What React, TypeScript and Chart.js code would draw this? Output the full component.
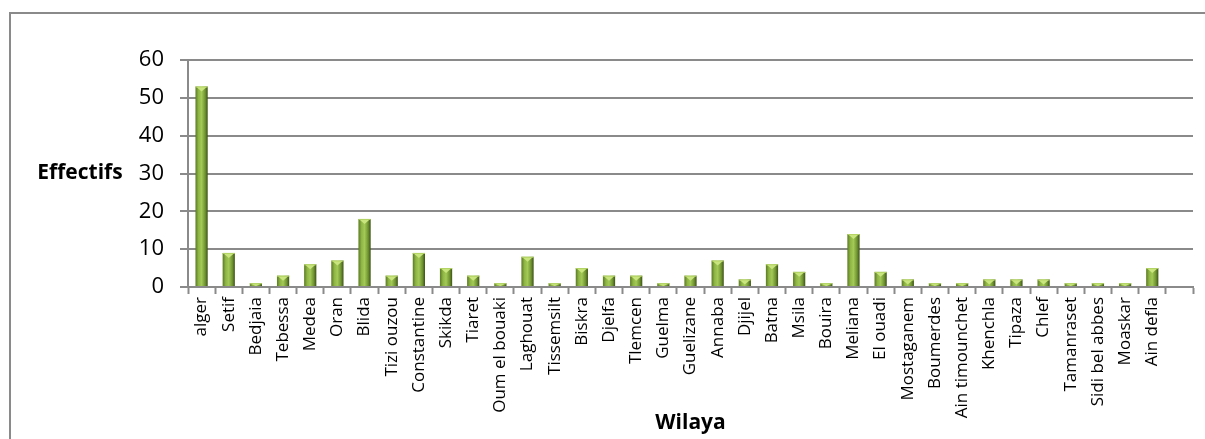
import React, { useEffect, useRef } from "react";
import { Chart, registerables } from "chart.js";

Chart.register(...registerables);

const categories = [
  "alger", "Setif", "Bedjaia", "Tebessa", "Medea", "Oran", "Blida", "Tizi ouzou",
  "Constantine", "Skikda", "Tiaret", "Oum el bouaki", "Laghouat", "Tissemsilt",
  "Biskra", "Djelfa", "Tlemcen", "Guelma", "Guelizane", "Annaba", "Djijel", "Batna",
  "Msila", "Bouira", "Meliana", "El ouadi", "Mostaganem", "Boumerdes",
  "Ain timounchet", "Khenchla", "Tipaza", "Chlef", "Tamanraset", "Sidi bel abbes",
  "Moaskar", "Ain defla", "",
];
const effectifs = [
  53, 9, 1, 3, 6, 7, 18, 3, 9, 5, 3, 1, 8, 1, 5, 3, 3, 1, 3, 7, 2, 6, 4, 1, 14, 4,
  2, 1, 1, 2, 2, 2, 1, 1, 1, 5, null,
];
const yAxisTitle = "Effectifs";
const xAxisTitle = "Wilaya";
const yMin = 0;
const yMax = 60;
const yStep = 10;

const FONT = "'Open Sans', 'Liberation Sans', sans-serif";
const BAR_PCT = 0.45;
const GRID = "#8a8a8a";

export default function App() {
  const ref = useRef<HTMLCanvasElement | null>(null);

  useEffect(() => {
    if (!ref.current) return;

    const frame = {
      id: "frame",
      beforeDraw(chart: any) {
        const c = chart.ctx;
        c.save();
        c.fillStyle = "#ffffff";
        c.fillRect(0, 0, chart.width, chart.height);
        c.strokeStyle = GRID;
        c.lineWidth = 2;
        c.beginPath();
        c.moveTo(10, chart.height + 2);
        c.lineTo(10, 13);
        c.lineTo(chart.width + 2, 13);
        c.stroke();
        c.restore();
      },
      afterDraw(chart: any) {
        const c = chart.ctx;
        const a = chart.chartArea;
        c.save();
        c.fillStyle = "#000000";
        c.font = `bold 21px ${FONT}`;
        c.textAlign = "center";
        c.textBaseline = "middle";
        c.fillText(yAxisTitle, 80, (a.top + a.bottom) / 2);
        c.textBaseline = "alphabetic";
        c.fillText(xAxisTitle, (a.left + a.right) / 2, 429);
        c.restore();
      },
    };

    const caps = {
      id: "caps",
      afterDatasetsDraw(chart: any) {
        const meta = chart.getDatasetMeta(0);
        const c = chart.ctx;
        c.save();
        meta.data.forEach((bar: any, i: number) => {
          if (effectifs[i] == null) return;
          const { x, y, width, base } = bar.getProps(["x", "y", "width", "base"], true);
          const h = Math.min(5, base - y);
          if (h <= 0) return;
          c.fillStyle = "#c9e57e";
          c.beginPath();
          c.moveTo(x - width / 2 + 1, y + 0.5);
          c.lineTo(x + width / 2 - 1, y + 0.5);
          c.lineTo(x, y + h);
          c.closePath();
          c.fill();
          c.fillStyle = "#b5d466";
          c.fillRect(x - width / 2, y, width, 1);
        });
        c.restore();
      },
    };

    const chart = new Chart(ref.current, {
      type: "bar",
      data: {
        labels: categories,
        datasets: [
          {
            data: effectifs,
            barPercentage: BAR_PCT,
            categoryPercentage: 1,
            borderWidth: 0,
            backgroundColor: (ctx: any) => {
              const ch = ctx.chart;
              if (!ch.chartArea || !ch.scales.x) return "#8db040";
              const xs = ch.scales.x;
              const cx = xs.getPixelForValue(ctx.dataIndex);
              const w = (xs.width / categories.length) * BAR_PCT;
              const g = ch.ctx.createLinearGradient(cx - w / 2, 0, cx + w / 2, 0);
              g.addColorStop(0, "#5a7a22");
              g.addColorStop(0.25, "#8fb545");
              g.addColorStop(0.5, "#a3c956");
              g.addColorStop(0.8, "#6e9230");
              g.addColorStop(1, "#3b5214");
              return g;
            },
          },
        ],
      },
      options: {
        responsive: false,
        animation: false,
        layout: { padding: { top: 60, right: 12, bottom: 0, left: 0 } },
        plugins: {
          legend: { display: false },
          tooltip: { enabled: false },
          title: { display: false },
        },
        scales: {
          x: {
            grid: {
              offset: true,
              drawOnChartArea: false,
              drawTicks: true,
              tickLength: 7,
              tickWidth: 2,
              tickColor: GRID,
            },
            border: { display: true, color: GRID, width: 2 },
            ticks: {
              autoSkip: false,
              minRotation: 90,
              maxRotation: 90,
              padding: 3,
              color: "#000000",
              font: { family: FONT, size: 17 },
            },
            afterFit(scale: any) {
              scale.height = 152;
            },
          },
          y: {
            min: yMin,
            max: yMax,
            grid: {
              color: GRID,
              lineWidth: 2,
              drawTicks: true,
              tickLength: 8,
              tickColor: GRID,
            },
            border: { display: true, color: GRID, width: 2 },
            ticks: {
              stepSize: yStep,
              padding: 16,
              color: "#000000",
              font: { family: FONT, size: 22 },
            },
            afterFit(scale: any) {
              scale.width = 188;
            },
          },
        },
      },
      plugins: [frame, caps],
    } as any);

    return () => chart.destroy();
  }, []);

  return (
    <div style={{ position: "absolute", left: 0, top: 0, width: 1205, height: 439 }}>
      <canvas ref={ref} width={1205} height={439} style={{ display: "block" }} />
    </div>
  );
}
